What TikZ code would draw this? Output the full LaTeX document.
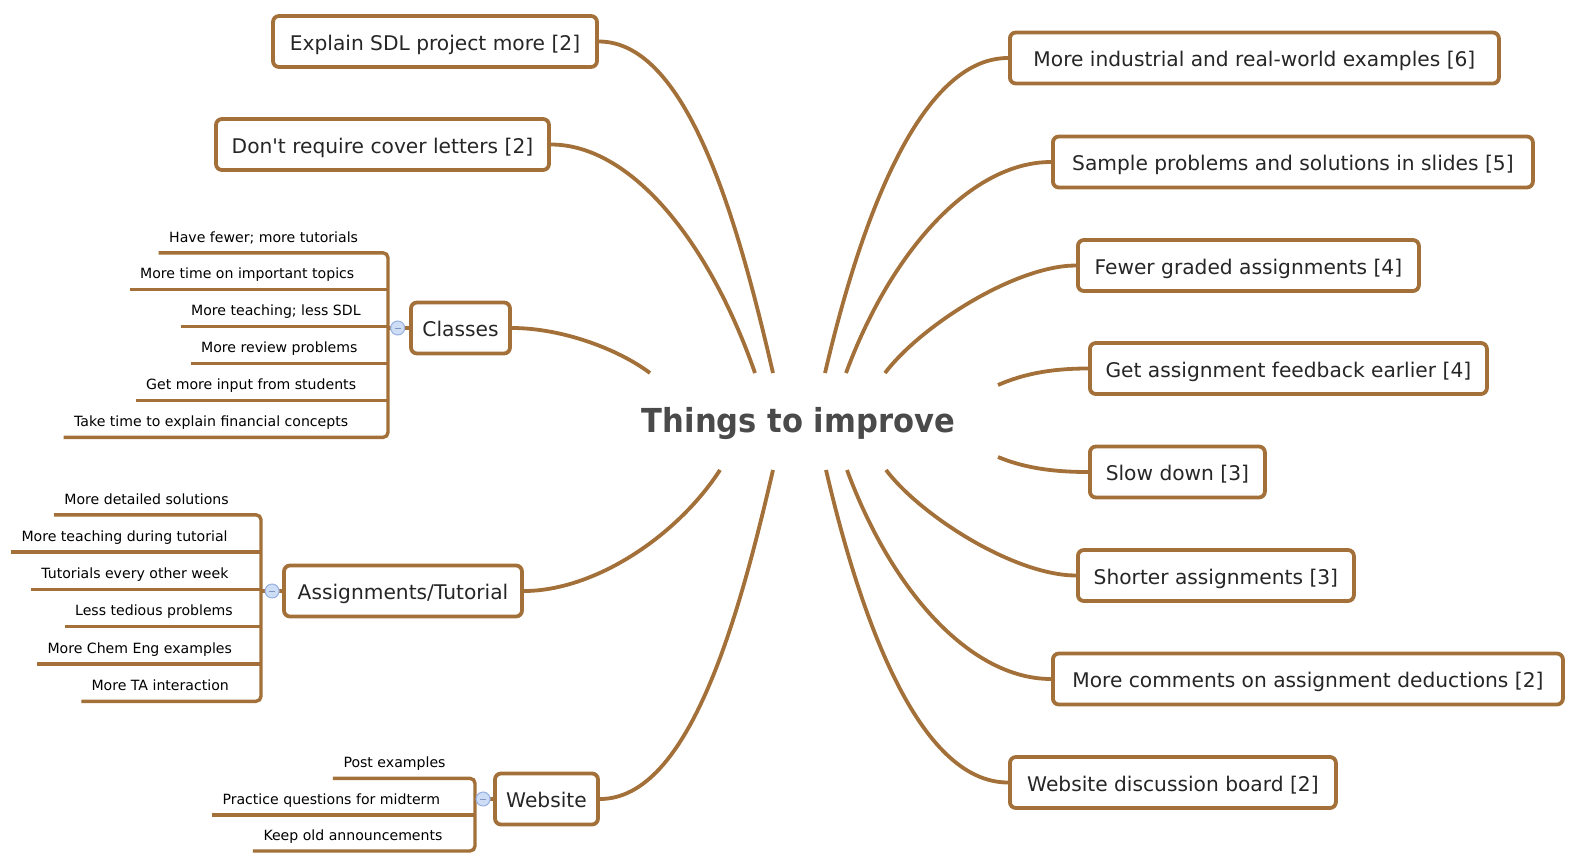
\documentclass[tikz,border=0pt]{standalone}
\usepackage{fontspec}
\setmainfont{DejaVu Sans}
\newfontfamily\plainq{DejaVu Sans}
\usetikzlibrary{calc}
\definecolor{brn}{RGB}{162,112,56}
\definecolor{txt}{RGB}{38,38,38}
\definecolor{ttl}{RGB}{74,74,74}
\definecolor{btnfill}{RGB}{206,221,246}
\definecolor{btndraw}{RGB}{150,175,225}
\definecolor{btnminus}{RGB}{130,150,195}
\begin{document}
\begin{tikzpicture}[x=1pt,y=-1pt,
  topic/.style={draw=brn, line width=3.8pt, rounded corners=6pt, fill=white, minimum height=51pt, inner xsep=0pt, inner ysep=0pt, text height=17pt, text depth=0pt, font=\fontsize{20.2}{24}\selectfont, text=txt},
  rtopic/.style={topic, anchor=west},
  sub/.style={inner sep=0pt, font=\fontsize{14.1}{17}\selectfont, text=black, anchor=base west},
  link/.style={draw=brn, line width=3.8pt},
  bline/.style={draw=brn, line width=3.4pt},
  btn/.style={circle, draw=btndraw, fill=btnfill, line width=1pt, minimum size=14pt, inner sep=0pt}
]
\useasboundingbox (0,0) rectangle (1596,862);

% central topic
\node[font=\bfseries\fontsize{30.6}{36}\selectfont, text=ttl, anchor=base, inner sep=0pt] (T) at (798.5,432) {\scalebox{1}[1.08]{Things to improve}};

% left topics
\node[topic, minimum width=324pt] (E) at (435,41.5) {Explain SDL project more [2]};
\node[topic, minimum width=333pt] (D) at (382.5,144.5) {Don{\plainq '}t require cover letters [2]};
\node[topic, minimum width=99pt] (C) at (460.5,328) {Classes};
\node[topic, minimum width=238pt] (A) at (403,591) {Assignments/Tutorial};
\node[topic, minimum width=103pt] (W) at (546.5,799) {Website};

% right topics
\node[rtopic, minimum width=489pt] (R1) at (1008,58) {More industrial and real-world examples [6]};
\node[rtopic, minimum width=480pt] (R2) at (1051,162) {Sample problems and solutions in slides [5]};
\node[rtopic, minimum width=341pt] (R3) at (1076,265.5) {Fewer graded assignments [4]};
\node[rtopic, minimum width=397pt] (R4) at (1088,368.5) {Get assignment feedback earlier [4]};
\node[rtopic, minimum width=175pt] (R5) at (1088,472) {Slow down [3]};
\node[rtopic, minimum width=276pt] (R6) at (1076,575.5) {Shorter assignments [3]};
\node[rtopic, minimum width=510pt] (R7) at (1051,679) {More comments on assignment deductions [2]};
\node[rtopic, minimum width=326pt] (R8) at (1008,782.5) {Website discussion board [2]};

% free ends of connectors near the central topic
\coordinate (tC) at (650,373);
\coordinate (tD) at (755,373);
\coordinate (tE) at (773,373);
\coordinate (t1) at (825,373);
\coordinate (t2) at (846,373);
\coordinate (t3) at (885,373);
\coordinate (t4) at (998,385);
\coordinate (t5) at (998,457);
\coordinate (t6) at (886,470);
\coordinate (t7) at (847,470);
\coordinate (t8) at (826,470);
\coordinate (tW) at (773,470);
\coordinate (tA) at (720,470);

% connectors
\draw[link] (E.east) .. controls +(90,0) and +(-34,-146) .. (tE);
\draw[link] (D.east) .. controls +(80,0) and +(-46,-132) .. (tD);
\draw[link] (C.east) .. controls +(50,0) and +(-32,-24) .. (tC);
\draw[link] (A.east) .. controls +(70,0) and +(-43.5,67) .. (tA);
\draw[link] (W.east) .. controls +(90,0) and +(-34,146) .. (tW);
\draw[link] (R1.west) .. controls +(-90,0) and +(34,-146) .. (t1);
\draw[link] (R2.west) .. controls +(-80,0) and +(45,-122) .. (t2);
\draw[link] (R3.west) .. controls +(-60,0) and +(36.5,-48) .. (t3);
\draw[link] (R4.west) .. controls +(-40,0) and +(23,-10) .. (t4);
\draw[link] (R5.west) .. controls +(-40,0) and +(23,9.5) .. (t5);
\draw[link] (R6.west) .. controls +(-60,0) and +(36.5,47.6) .. (t6);
\draw[link] (R7.west) .. controls +(-80,0) and +(45,122) .. (t7);
\draw[link] (R8.west) .. controls +(-90,0) and +(34,146) .. (t8);

% ---- Classes children
\coordinate (cb) at (388,0);
\node[sub] (c1) at (169,242) {Have fewer; more tutorials};
\node[sub] (c2) at (140,278.9) {More time on important topics};
\node[sub] (c3) at (191,315.8) {More teaching; less SDL};
\node[sub] (c4) at (201,352.8) {More review problems};
\node[sub] (c5) at (146,389.7) {Get more input from students};
\node[sub] (c6) at (74,426.6) {Take time to explain financial concepts};
\foreach \i in {1,...,6} {\coordinate (cu\i) at ($(c\i.base west)+(-10.5,10.8)$);}
\draw[bline, rounded corners=5pt] (cu1) -- (cu1 -| cb) -- (cu6 -| cb) -- (cu6);
\foreach \i in {2,...,5} {\draw[bline] (cu\i) -- (cu\i -| cb);}
\draw[bline] (C.west -| cb) -- (C.west);
\node[btn] (cbtn) at ($(C.west)+(-11.4,0)$) {};
\draw[btnminus, line width=1pt] ($(cbtn.center)+(-3,0)$) -- ($(cbtn.center)+(3,0)$);

% ---- Assignments/Tutorial children
\coordinate (ab) at (261,0);
\node[sub] (a1) at (64.2,504) {More detailed solutions};
\node[sub] (a2) at (21.3,541.3) {More teaching during tutorial};
\node[sub] (a3) at (41.2,578.6) {Tutorials every other week};
\node[sub] (a4) at (75,615.9) {Less tedious problems};
\node[sub] (a5) at (47.3,653.2) {More Chem Eng examples};
\node[sub] (a6) at (91.3,690.5) {More TA interaction};
\foreach \i in {1,...,6} {\coordinate (au\i) at ($(a\i.base west)+(-10,10.8)$);}
\draw[bline, rounded corners=5pt] (au1) -- (au1 -| ab) -- (au6 -| ab) -- (au6);
\foreach \i in {2,...,5} {\draw[bline] (au\i) -- (au\i -| ab);}
\draw[bline] (A.west -| ab) -- (A.west);
\node[btn] (abtn) at ($(A.west)+(-10,0)$) {};
\draw[btnminus, line width=1pt] ($(abtn.center)+(-3,0)$) -- ($(abtn.center)+(3,0)$);

% ---- Website children
\coordinate (wb) at (475,0);
\node[sub] (w1) at (343.3,767.3) {Post examples};
\node[sub] (w2) at (222.3,804) {Practice questions for midterm};
\node[sub] (w3) at (263.3,840) {Keep old announcements};
\foreach \i in {1,2,3} {\coordinate (wu\i) at ($(w\i.base west)+(-10.5,11)$);}
\draw[bline, rounded corners=5pt] (wu1) -- (wu1 -| wb) -- (wu3 -| wb) -- (wu3);
\draw[bline] (wu2) -- (wu2 -| wb);
\draw[bline] (W.west -| wb) -- (W.west);
\node[btn] (wbtn) at ($(W.west)+(-10,0)$) {};
\draw[btnminus, line width=1pt] ($(wbtn.center)+(-3,0)$) -- ($(wbtn.center)+(3,0)$);
\end{tikzpicture}
\end{document}
